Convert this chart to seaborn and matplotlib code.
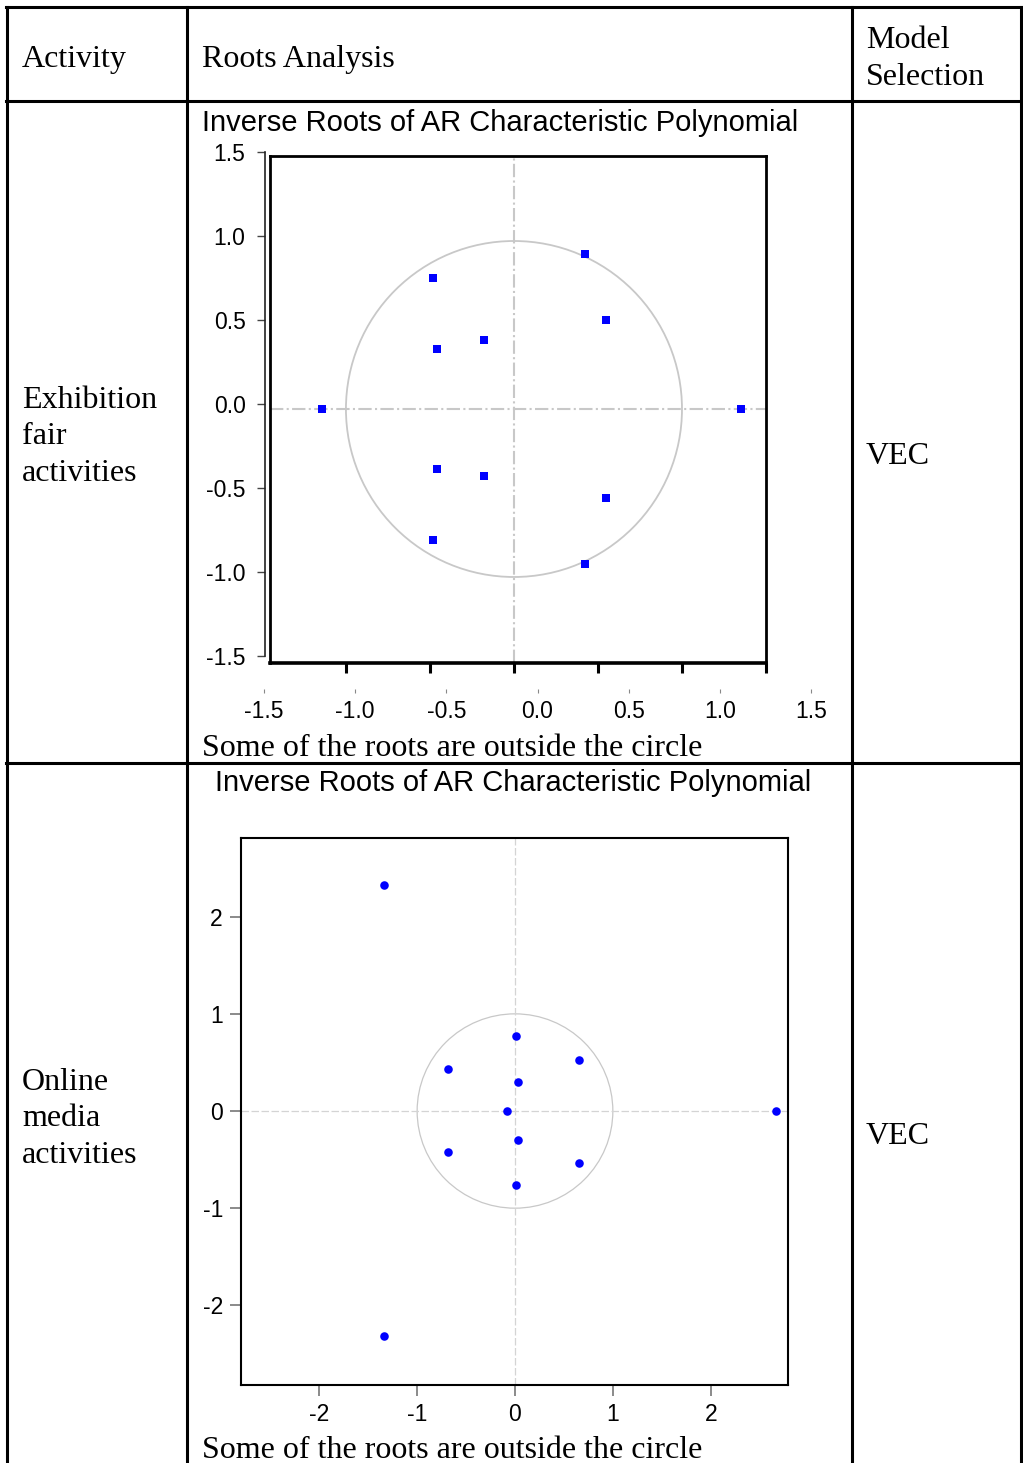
import matplotlib
matplotlib.use('Agg')
import numpy as np
import matplotlib.pyplot as plt
from matplotlib.patches import Circle
import seaborn as sns

exhibition_re = [0.42, -0.48, 0.55, -0.46, -0.18, -1.14, 1.35, -0.46, -0.18, 0.55, -0.48, 0.42]
exhibition_im = [0.92, 0.78, 0.53, 0.36, 0.41, 0.0, 0.0, -0.36, -0.40, -0.53, -0.78, -0.92]

online_re = [-1.34, 0.01, 0.65, -0.68, 0.03, -0.085, 2.67, 0.03, -0.68, 0.65, 0.01, -1.34]
online_im = [2.33, 0.77, 0.53, 0.43, 0.30, 0.0, 0.0, -0.30, -0.42, -0.53, -0.76, -2.32]

ex_ticks = [-1.5, -1.0, -0.5, 0.0, 0.5, 1.0, 1.5]
ex_ticklabels = ['-1.5', '-1.0', '-0.5', '0.0', '0.5', '1.0', '1.5']
on_ticks = [-2, -1, 0, 1, 2]

headers = ['Activity', 'Roots Analysis', 'Model\nSelection']
activities = ['Exhibition\nfair\nactivities', 'Online\nmedia\nactivities']
models = ['VEC', 'VEC']
chart_title = 'Inverse Roots of AR Characteristic Polynomial'
caption = 'Some of the roots are outside the circle'

sns.set_style('white')
plt.rcParams['font.family'] = ['Liberation Sans', 'DejaVu Sans']
plt.rcParams['axes.unicode_minus'] = False
plt.rcParams['text.color'] = 'black'
plt.rcParams['xtick.labelcolor'] = 'black'
plt.rcParams['ytick.labelcolor'] = 'black'

W, H = 1023, 1463
fig = plt.figure(figsize=(W / 100, H / 100), dpi=100)


def rect(l, t, r, b):
    return [l / W, 1 - b / H, (r - l) / W, (b - t) / H]


# background axes for the table grid and text
bg = fig.add_axes([0, 0, 1, 1])
bg.set_xlim(0, W)
bg.set_ylim(H, 0)
bg.axis('off')
lw_tab = 2.2
for y in [7, 101, 763]:
    bg.plot([6, 1022], [y, y], color='black', lw=lw_tab, solid_capstyle='projecting')
for x in [7, 187, 852, 1021]:
    bg.plot([x, x], [7, H + 5], color='black', lw=lw_tab, solid_capstyle='projecting')

serif = 'Liberation Serif'
fs = 23
bg.text(22, 59, headers[0], family=serif, fontsize=fs, va='center')
bg.text(202, 59, headers[1], family=serif, fontsize=fs, va='center')
bg.text(866, 59, headers[2], family=serif, fontsize=fs, va='center', linespacing=1.36)
bg.text(22, 437, activities[0], family=serif, fontsize=fs, va='center', linespacing=1.33)
bg.text(22, 1119, activities[1], family=serif, fontsize=fs, va='center', linespacing=1.36)
bg.text(866, 457, models[0], family=serif, fontsize=fs, va='center')
bg.text(866, 1137, models[1], family=serif, fontsize=fs, va='center')
bg.text(202, 749, caption, family=serif, fontsize=fs, va='center')
bg.text(202, 1451, caption, family=serif, fontsize=fs, va='center')
bg.text(202, 123, chart_title, fontsize=21, va='center')
bg.text(215, 783, chart_title, fontsize=21, va='center')

# ---- chart 1: exhibition fair activities ----
ax1 = fig.add_axes(rect(270, 156, 766, 663))
ax1.set_xlim(-1.452, 1.5)
ax1.set_ylim(-1.512, 1.506)
ax1.add_patch(Circle((0, 0), 1, fill=False, color='#c8c8c8', lw=1.3))
ax1.axhline(0, color='#c8c8c8', lw=1.5, ls='-.')
ax1.axvline(0, color='#c8c8c8', lw=1.5, ls='-.')
sns.scatterplot(x=exhibition_re, y=exhibition_im, marker='s', color='blue',
                s=26, linewidth=0, ax=ax1, zorder=3)
for sp in ax1.spines.values():
    sp.set_color('black')
    sp.set_linewidth(2.0)
ax1.spines['bottom'].set_linewidth(2.6)
ax1.set_xticks(ex_ticks[1:])
ax1.set_xticklabels([])
ax1.set_yticks([])
ax1.tick_params(axis='x', direction='out', length=7, width=2.2, color='black', bottom=True)

# separate y axis, slightly left of the frame
ay1 = fig.add_axes(rect(265, 152, 266, 656))
ay1.set_ylim(-1.5, 1.5)
ay1.set_xticks([])
ay1.set_yticks(ex_ticks)
ay1.set_yticklabels(ex_ticklabels)
for name, sp in ay1.spines.items():
    sp.set_visible(name == 'left')
ay1.spines['left'].set_linewidth(1.2)
ay1.spines['left'].set_color('#222222')
ay1.tick_params(axis='y', direction='out', length=6, width=1, color='#444444',
                labelsize=16.5, pad=8, left=True)
ay1.patch.set_alpha(0)

# separate x tick labels below
ax1l = fig.add_axes(rect(264, 688, 811, 689))
ax1l.set_xlim(-1.5, 1.5)
ax1l.set_yticks([])
ax1l.set_xticks(ex_ticks)
ax1l.set_xticklabels(ex_ticklabels)
for sp in ax1l.spines.values():
    sp.set_visible(False)
ax1l.tick_params(axis='x', direction='out', length=3, width=0.8, color='#888888',
                 labelsize=16.5, pad=5, bottom=True)
ax1l.patch.set_alpha(0)

# ---- chart 2: online media activities ----
ax2 = fig.add_axes(rect(241, 838, 788, 1385))
ax2.set_xlim(-2.80, 2.79)
ax2.set_ylim(-2.82, 2.81)
ax2.add_patch(Circle((0, 0), 1, fill=False, color='#c8c8c8', lw=0.9))
ax2.axhline(0, color='#d4d4d4', lw=0.9, ls='--', dashes=(6, 2))
ax2.axvline(0, color='#d4d4d4', lw=0.9, ls='--', dashes=(6, 2))
sns.scatterplot(x=online_re, y=online_im, marker='o', color='blue',
                s=38, linewidth=0, ax=ax2, zorder=3)
for sp in ax2.spines.values():
    sp.set_color('black')
    sp.set_linewidth(1.5)
ax2.set_xticks(on_ticks)
ax2.set_yticks(on_ticks)
ax2.tick_params(direction='out', length=8, width=1.2, color='#777777',
                labelsize=16.5, pad=5, bottom=True, left=True)

fig.savefig('out.png', dpi=100)
